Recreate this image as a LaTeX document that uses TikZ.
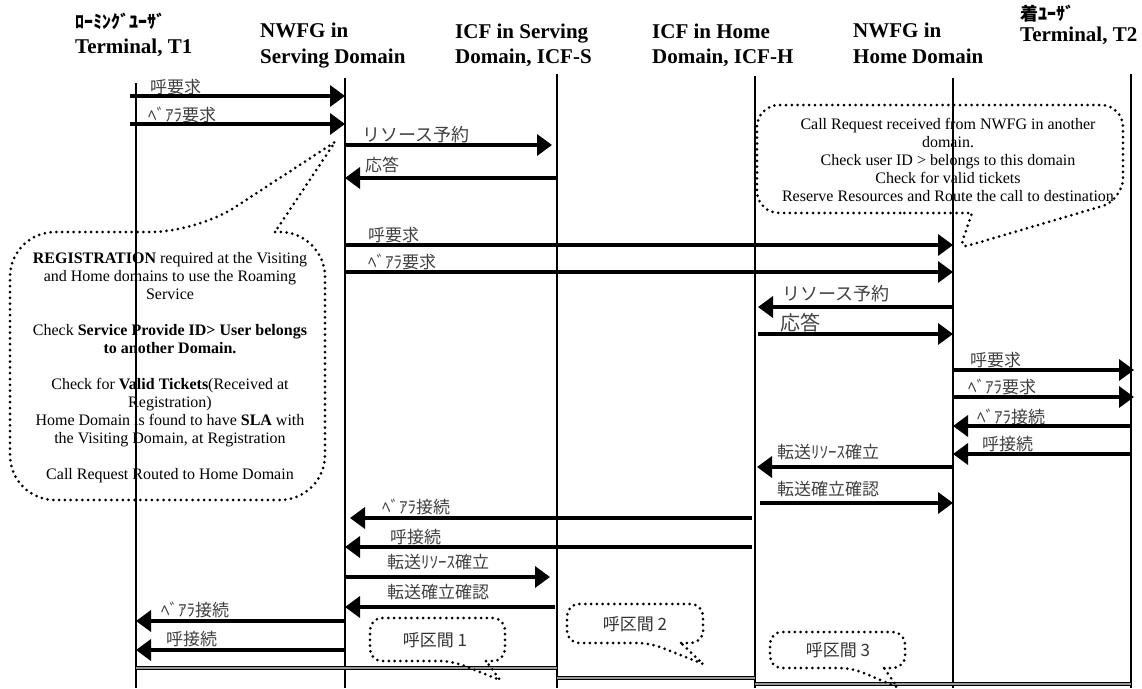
\documentclass[tikz,border=0pt]{standalone}
\usepackage{fontspec}
\setmainfont{Liberation Serif}
\newfontfamily\jpfont{Noto Sans CJK JP}
\usetikzlibrary{arrows.meta}

\begin{document}
\begin{tikzpicture}[x=1pt, y=-1pt,
  life/.style={line width=2.6pt},
  msg/.style={line width=3.6pt, -{Triangle[length=15pt,width=21pt]}},
  lbl/.style={anchor=base west, inner sep=0pt, text=black!75, font=\jpfont\fontsize{17}{17}\selectfont},
  biglbl/.style={lbl, font=\jpfont\fontsize{18}{18}\selectfont},
  head/.style={anchor=base west, inner sep=0pt, font=\bfseries\fontsize{21}{25}\selectfont},
  jphead/.style={head, font=\jpfont\bfseries\fontsize{18}{18}\selectfont},
  note/.style={line width=3pt, dash pattern=on 0pt off 5.8pt, line cap=round},
  notetext/.style={align=center, inner sep=0pt, font=\fontsize{16}{18}\selectfont},
  secttext/.style={inner sep=0pt, text=black!80, font=\jpfont\fontsize{17}{17}\selectfont},
  sect/.style={line width=1.5pt, double=black!40, double distance=1.8pt}]
  \useasboundingbox (0,0) rectangle (1142,688);

  \coordinate (T1) at (136,0);
  \coordinate (NS) at (345,0);
  \coordinate (IS) at (557,0);
  \coordinate (IH) at (755,0);
  \coordinate (NH) at (953,0);
  \coordinate (T2) at (1131,0);

  \node[jphead] (hT1a) at (75,28) {ﾛｰﾐﾝｸﾞﾕｰｻﾞ};
  \node[head] (hT1) at (75,53) {Terminal, T1};
  \node[head] (hNSa) at (260,37) {NWFG in};
  \node[head] (hNS) at (260,63) {Serving Domain};
  \node[head] (hISa) at (455,38) {ICF in Serving};
  \node[head] (hIS) at (455,63) {Domain, ICF-S};
  \node[head] (hIHa) at (652,38) {ICF in Home};
  \node[head] (hIH) at (652,63) {Domain, ICF-H};
  \node[head] (hNHa) at (853,37) {NWFG in};
  \node[head] (hNH) at (853,63) {Home Domain};
  \node[jphead] (hT2a) at (1020,20) {着ﾕｰｻﾞ};
  \node[head] (hT2) at (1020,41) {Terminal, T2};

  \draw[life] (T1 |- 0,83) -- (T1 |- 0,688);
  \draw[life] (NS |- 0,78) -- (NS |- 0,688);
  \draw[life] (IS |- 0,74) -- (IS |- 0,688);
  \draw[life] (IH |- 0,76) -- (IH |- 0,688);
  \draw[life] (NH |- 0,78) -- (NH |- 0,688);
  \draw[life] (T2 |- 0,74) -- (T2 |- 0,688);

  \node[lbl] (m1) at (150,93) {呼要求};
  \draw[msg, shorten <=-6pt] (T1 |- 0,96) -- (NS |- 0,96);
  \node[lbl] (m2) at (148,121) {ﾍﾞｱﾗ要求};
  \draw[msg, shorten <=-6pt] (T1 |- 0,124) -- (NS |- 0,124);
  \node[biglbl] (m3) at (362,141) {リソース予約};
  \draw[msg, shorten >=5pt] (NS |- 0,145) -- (IS |- 0,145);
  \node[lbl] (m4) at (365,171) {応答};
  \draw[msg] (IS |- 0,178) -- (NS |- 0,178);
  \node[lbl] (m5) at (368,241) {呼要求};
  \draw[msg] (NS |- 0,245) -- (NH |- 0,245);
  \node[lbl] (m6) at (368,268) {ﾍﾞｱﾗ要求};
  \draw[msg] (NS |- 0,272) -- (NH |- 0,272);
  \node[biglbl] (m7) at (782,300) {リソース予約};
  \draw[msg, shorten >=3pt] (NH |- 0,307) -- (IH |- 0,307);
  \node[lbl, font=\jpfont\fontsize{20}{20}\selectfont] (m8) at (780,330) {応答};
  \draw[msg, shorten <=3pt] (IH |- 0,334) -- (NH |- 0,334);
  \node[lbl] (m9) at (970,366) {呼要求};
  \draw[msg, shorten >=-3pt] (NH |- 0,370) -- (T2 |- 0,370);
  \node[lbl] (m10) at (968,393) {ﾍﾞｱﾗ要求};
  \draw[msg, shorten >=-3pt] (NH |- 0,397) -- (T2 |- 0,397);
  \node[lbl] (m11) at (977,423) {ﾍﾞｱﾗ接続};
  \draw[msg] (T2 |- 0,426) -- (NH |- 0,426);
  \node[lbl] (m12) at (982,450) {呼接続};
  \draw[msg] (T2 |- 0,454) -- (NH |- 0,454);
  \node[lbl] (m13) at (777,458) {転送ﾘｿｰｽ確立};
  \draw[msg, shorten >=2pt] (NH |- 0,467) -- (IH |- 0,467);
  \node[lbl] (m14) at (777,495) {転送確立確認};
  \draw[msg, shorten <=5pt] (IH |- 0,503) -- (NH |- 0,503);
  \node[lbl] (m15) at (382,513) {ﾍﾞｱﾗ接続};
  \draw[msg, shorten <=3pt, shorten >=5pt] (IH |- 0,518) -- (NS |- 0,518);
  \node[lbl] (m16) at (390,543) {呼接続};
  \draw[msg, shorten <=3pt] (IH |- 0,547) -- (NS |- 0,547);
  \node[lbl] (m17) at (387,568) {転送ﾘｿｰｽ確立};
  \draw[msg, shorten >=7pt] (NS |- 0,577) -- (IS |- 0,577);
  \node[lbl] (m18) at (387,598) {転送確立確認};
  \draw[msg, shorten <=2pt] (IS |- 0,607) -- (NS |- 0,607);
  \node[lbl] (m19) at (161,616) {ﾍﾞｱﾗ接続};
  \draw[msg] (NS |- 0,621) -- (T1 |- 0,621);
  \node[lbl] (m20) at (166,645) {呼接続};
  \draw[msg] (NS |- 0,650) -- (T1 |- 0,650);

  \draw[note] (275,232) [rounded corners=45pt] -- (325,232) -- (325,500) -- (10,500) -- (10,232) -- (197,232) [sharp corners] -- (335,142) -- cycle;
  \node[notetext] (nReg) at (170,368) {\textbf{REGISTRATION} required at the Visiting\\
    and Home domains to use the Roaming\\
    Service\\[18pt]
    Check \textbf{Service Provide ID> User belongs}\\
    \textbf{to another Domain.}\\[18pt]
    Check for \textbf{Valid Tickets}(Received at\\
    Registration)\\
    Home Domain is found to have \textbf{SLA} with\\
    the Visiting Domain, at Registration\\[18pt]
    Call Request Routed to Home Domain};

  \draw[note] (900,213) [rounded corners=22pt] -- (757,213) -- (757,105) -- (1123,105) -- (1123,200) [rounded corners=8pt] -- (960,248) [sharp corners] -- (972,213) -- cycle;
  \node[notetext] (nHome) at (948,160) {Call Request received from NWFG in another\\
    domain.\\
    Check user ID > belongs to this domain\\
    Check for valid tickets\\
    Reserve Resources and Route the call to destination};

  \draw[sect] (T1 |- 0,668) -- (IS |- 0,668);
  \draw[sect] (IS |- 0,678) -- (IH |- 0,678);
  \draw[sect] (IH |- 0,684) -- (T2 |- 0,684);

  \draw[note] (486,661) [rounded corners=12pt] -- (505,661) -- (505,618) -- (370,618) -- (370,661) -- (452,661) [sharp corners] -- (500,680) -- cycle;
  \node[secttext] (s1) at (435,640) {呼区間 1};
  \draw[note] (681,643) [rounded corners=12pt] -- (703,643) -- (703,604) -- (567,604) -- (567,643) -- (650,643) [sharp corners] -- (703,664) -- cycle;
  \node[secttext] (s2) at (635,624) {呼区間 2};
  \draw[note] (884,668) [rounded corners=12pt] -- (905,668) -- (905,632) -- (770,632) -- (770,668) -- (852,668) [sharp corners] -- (897,687) -- cycle;
  \node[secttext] (s3) at (838,650) {呼区間 3};
\end{tikzpicture}
\end{document}
